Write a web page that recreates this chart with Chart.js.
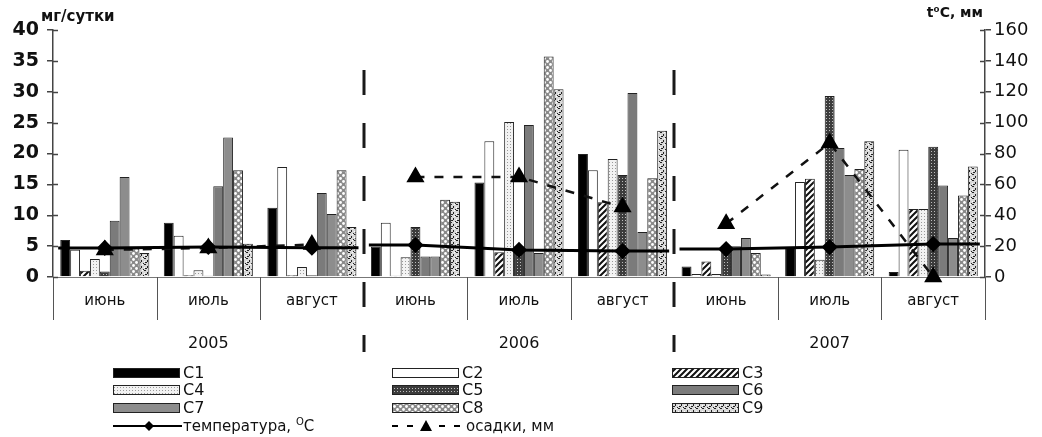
<!DOCTYPE html>
<html>
<head>
<meta charset="utf-8">
<script src="https://cdn.jsdelivr.net/npm/chart.js"></script>
<style>
  html, body { margin: 0; padding: 0; background: #fff; }
</style>
</head>
<body>
<canvas id="myChart" width="1042" height="437"></canvas>

<script>
// months (categories), years, and the values
const months = ['июнь', 'июль', 'август', 'июнь', 'июль', 'август', 'июнь', 'июль', 'август'];
const years = ['2005', '2006', '2007'];

const c1 = [6.0, 8.8, 11.2, 4.9, 15.3, 19.9, 1.7, 4.7, 0.8];
const c2 = [4.4, 6.7, 17.8, 8.8, 22.0, 17.3, 0.5, 15.4, 20.6];
const c3 = [1.0, 0.3, 0.3, 0.2, 4.0, 12.1, 2.5, 15.9, 11.0];
const c4 = [2.9, 1.1, 1.6, 3.2, 25.1, 19.1, 0.5, 2.8, 11.0];
const c5 = [0.9, 0.2, 0.3, 8.1, 5.0, 16.5, 4.4, 29.3, 21.1];
const c6 = [9.1, 14.7, 13.6, 3.3, 24.6, 29.8, 5.0, 20.9, 14.8];
const c7 = [16.2, 22.6, 10.2, 3.3, 3.9, 7.3, 6.3, 16.5, 6.3];
const c8 = [4.6, 17.3, 17.3, 12.5, 35.7, 16.0, 3.9, 17.5, 13.2];
const c9 = [3.9, 5.4, 8.1, 12.2, 30.4, 23.7, 0.4, 22.0, 17.9];

// right axis, t°C and mm
const temperature = [18.8, 19.5, 19.0, 20.7, 17.5, 16.8, 18.1, 19.4, 21.3];
const precipitation = [17.5, 18.8, 21.0, 64.8, 64.8, 45.3, 34.5, 86.8, 0];

const FONT = 'DejaVu Sans';

function makePattern(w, h, draw) {
  const c = document.createElement('canvas');
  c.width = w; c.height = h;
  const g = c.getContext('2d');
  draw(g);
  return c.getContext('2d').createPattern(c, 'repeat');
}

const hatch = makePattern(6, 6, g => {
  g.fillStyle = '#fff'; g.fillRect(0, 0, 6, 6);
  g.strokeStyle = '#111'; g.lineWidth = 2;
  g.beginPath();
  g.moveTo(-1, 7); g.lineTo(7, -1);
  g.moveTo(-4, 4); g.lineTo(4, -4);
  g.moveTo(2, 10); g.lineTo(10, 2);
  g.stroke();
});
const lightDots = makePattern(3, 3, g => {
  g.fillStyle = '#f2f2f2'; g.fillRect(0, 0, 3, 3);
  g.fillStyle = '#9a9a9a'; g.fillRect(0, 0, 1, 1);
});
const darkDots = makePattern(3, 3, g => {
  g.fillStyle = '#3c3c3c'; g.fillRect(0, 0, 3, 3);
  g.fillStyle = '#bdbdbd'; g.fillRect(1, 1, 1, 1);
});
const circles = makePattern(6, 6, g => {
  g.fillStyle = '#8a8a8a'; g.fillRect(0, 0, 6, 6);
  g.fillStyle = '#fff';
  g.beginPath(); g.arc(1.5, 1.5, 1.4, 0, Math.PI * 2); g.fill();
  g.beginPath(); g.arc(4.5, 4.5, 1.4, 0, Math.PI * 2); g.fill();
});
const confetti = makePattern(6, 6, g => {
  g.fillStyle = '#d8d8d8'; g.fillRect(0, 0, 6, 6);
  g.fillStyle = '#222';
  g.fillRect(0, 0, 2, 1); g.fillRect(3, 2, 1, 2); g.fillRect(1, 4, 2, 1); g.fillRect(5, 5, 1, 1);
  g.fillStyle = '#fff';
  g.fillRect(4, 0, 1, 1); g.fillRect(0, 3, 1, 1);
});

const bars = [
  ['C1', c1, '#000'],
  ['C2', c2, '#fff'],
  ['C3', c3, hatch],
  ['C4', c4, lightDots],
  ['C5', c5, darkDots],
  ['C6', c6, '#7b7b7b'],
  ['C7', c7, '#8d8d8d'],
  ['C8', c8, circles],
  ['C9', c9, confetti]
];

const datasets = [];
bars.forEach(b => {
  datasets.push({
    type: 'bar', label: b[0], data: b[1], backgroundColor: b[2],
    borderColor: '#222', borderWidth: 1, yAxisID: 'y', order: 2,
    categoryPercentage: 0.86, barPercentage: 1.0
  });
});

// one line per year, so years are not joined
years.forEach((yr, k) => {
  datasets.push({
    type: 'line', label: 'температура ' + yr, yAxisID: 'y2', order: 0,
    data: temperature.map((v, i) => Math.floor(i / 3) === k ? v : null),
    borderColor: '#000', borderWidth: 3, tension: 0, clip: false,
    pointStyle: 'rectRot', pointRadius: 6, pointBackgroundColor: '#000', pointBorderColor: '#000',
    isTemp: true
  });
  datasets.push({
    type: 'line', label: 'осадки ' + yr, yAxisID: 'y2', order: 1,
    data: precipitation.map((v, i) => Math.floor(i / 3) === k ? v : null),
    borderColor: '#111', borderWidth: 2.5, borderDash: [9, 10], tension: 0, clip: false,
    pointStyle: 'triangle', pointRadius: 8, pointBackgroundColor: '#000', pointBorderColor: '#000'
  });
});

function supText(ctx, x, y, parts) {
  parts.forEach(p => {
    ctx.font = p.font;
    ctx.fillText(p.t, x, y + (p.dy || 0));
    x += ctx.measureText(p.t).width;
  });
}

const decor = {
  id: 'decor',
  beforeDatasetsDraw(chart) {
    const {ctx, scales: {x}} = chart;
    ctx.save();
    ctx.strokeStyle = '#1a1a1a';
    ctx.lineWidth = 3;
    ctx.setLineDash([25, 28]);
    [2.5, 5.5].forEach(v => {
      const px = Math.round(x.getPixelForValue(v));
      ctx.beginPath(); ctx.moveTo(px, 70); ctx.lineTo(px, 352); ctx.stroke();
    });
    ctx.restore();
  },
  afterDatasetsDraw(chart) {
    // temperature line runs on a little past its end points
    const {ctx, scales: {x}} = chart;
    const half = (x.getPixelForValue(1) - x.getPixelForValue(0)) * 0.45;
    ctx.save();
    ctx.strokeStyle = '#000'; ctx.lineWidth = 3;
    chart.data.datasets.forEach((ds, i) => {
      if (!ds.isTemp) return;
      const pts = chart.getDatasetMeta(i).data.filter(p => !p.skip);
      if (!pts.length) return;
      const a = pts[0], b = pts[pts.length - 1];
      ctx.beginPath();
      ctx.moveTo(a.x - half, a.y); ctx.lineTo(a.x, a.y);
      ctx.moveTo(b.x, b.y); ctx.lineTo(b.x + half, b.y);
      ctx.stroke();
    });
    ctx.restore();
  },
  afterDraw(chart) {
    const {ctx, chartArea: ca, scales: {x, y, y2}} = chart;
    ctx.save();
    // separators under the month labels
    ctx.strokeStyle = '#555'; ctx.lineWidth = 1;
    for (let i = 0; i <= months.length; i++) {
      if (i === 3 || i === 6) continue;
      const px = Math.round(x.getPixelForValue(i - 0.5)) + 0.5;
      ctx.beginPath(); ctx.moveTo(px, ca.bottom); ctx.lineTo(px, ca.bottom + 43); ctx.stroke();
    }
    // inner halves of the axis tick marks
    ctx.strokeStyle = '#444'; ctx.lineWidth = 1.5;
    y.ticks.forEach(t => {
      const py = Math.round(y.getPixelForValue(t.value)) + 0.5;
      ctx.beginPath(); ctx.moveTo(ca.left, py); ctx.lineTo(ca.left + 5, py); ctx.stroke();
    });
    y2.ticks.forEach(t => {
      const py = Math.round(y2.getPixelForValue(t.value)) + 0.5;
      ctx.beginPath(); ctx.moveTo(ca.right - 5, py); ctx.lineTo(ca.right, py); ctx.stroke();
    });

    ctx.fillStyle = '#111';
    ctx.textBaseline = 'middle';
    // years
    ctx.textAlign = 'center';
    ctx.font = '16px "' + FONT + '"';
    years.forEach((yr, k) => ctx.fillText(yr, x.getPixelForValue(k * 3 + 1), 344));

    // axis titles
    ctx.textAlign = 'left';
    ctx.font = 'bold 15px "' + FONT + '"';
    ctx.fillText('мг/сутки', 41, 17);
    ctx.textAlign = 'right';
    ctx.font = 'bold 14px "' + FONT + '"';
    ctx.fillText('t⁰C, мм', 983, 13);

    // legend
    ctx.textAlign = 'left';
    const cols = [113, 392, 672];
    const rows = [373, 390, 408, 426];
    bars.forEach((b, i) => {
      const lx = cols[i % 3], ly = rows[Math.floor(i / 3)];
      ctx.fillStyle = b[2];
      ctx.fillRect(lx, ly - 5, 67, 10);
      ctx.strokeStyle = '#222'; ctx.lineWidth = 1;
      ctx.strokeRect(lx + 0.5, ly - 4.5, 66, 9);
      ctx.fillStyle = '#111';
      ctx.font = '16px "' + FONT + '"';
      ctx.fillText(b[0], lx + 70, ly + 1);
    });
    const ty = rows[3];
    ctx.strokeStyle = '#000'; ctx.lineWidth = 2;
    ctx.beginPath(); ctx.moveTo(113, ty); ctx.lineTo(182, ty); ctx.stroke();
    ctx.fillStyle = '#000';
    ctx.beginPath(); ctx.moveTo(149, ty - 5); ctx.lineTo(154, ty); ctx.lineTo(149, ty + 5); ctx.lineTo(144, ty); ctx.closePath(); ctx.fill();
    ctx.fillStyle = '#111';
    supText(ctx, 183, ty + 1, [
      {t: 'температура, ', font: '15px "' + FONT + '"'},
      {t: 'O', font: '10px "' + FONT + '"', dy: -5},
      {t: 'C', font: '15px "' + FONT + '"'}
    ]);
    ctx.lineWidth = 2;
    [[392, 398], [407, 413], [439, 445], [454, 460]].forEach(s => {
      ctx.beginPath(); ctx.moveTo(s[0], ty); ctx.lineTo(s[1], ty); ctx.stroke();
    });
    ctx.fillStyle = '#000';
    ctx.beginPath(); ctx.moveTo(426, ty - 6); ctx.lineTo(432, ty + 5); ctx.lineTo(420, ty + 5); ctx.closePath(); ctx.fill();
    ctx.fillStyle = '#111';
    ctx.font = '15px "' + FONT + '"';
    ctx.fillText('осадки, мм', 466, ty + 1);
    ctx.restore();
  }
};

new Chart(document.getElementById('myChart'), {
  data: { labels: months, datasets: datasets },
  options: {
    responsive: false,
    animation: false,
    layout: { padding: { top: 30 } },
    plugins: { legend: { display: false }, tooltip: { enabled: false } },
    scales: {
      x: {
        type: 'category', offset: true,
        grid: { display: false, drawTicks: false },
        border: { display: true, color: '#777', width: 1 },
        ticks: { font: { family: FONT, size: 15 }, color: '#111', padding: 15, autoSkip: false, maxRotation: 0 },
        afterFit(s) { s.height = 160; }
      },
      y: {
        position: 'left', min: 0, max: 40,
        ticks: { stepSize: 5, font: { family: FONT, size: 19, weight: 'bold' }, color: '#111', padding: 8 },
        grid: { drawOnChartArea: false, tickLength: 6, color: '#444', lineWidth: 1.5 },
        border: { color: '#444', width: 1.5 },
        afterFit(s) { s.width = 53; }
      },
      y2: {
        position: 'right', min: 0, max: 160,
        ticks: { stepSize: 20, font: { family: FONT, size: 18 }, color: '#111', padding: 3 },
        grid: { drawOnChartArea: false, tickLength: 6, color: '#444', lineWidth: 1.5 },
        border: { color: '#444', width: 1.5 },
        afterFit(s) { s.width = 57; }
      }
    }
  },
  plugins: [decor]
});
</script>
</body>
</html>
